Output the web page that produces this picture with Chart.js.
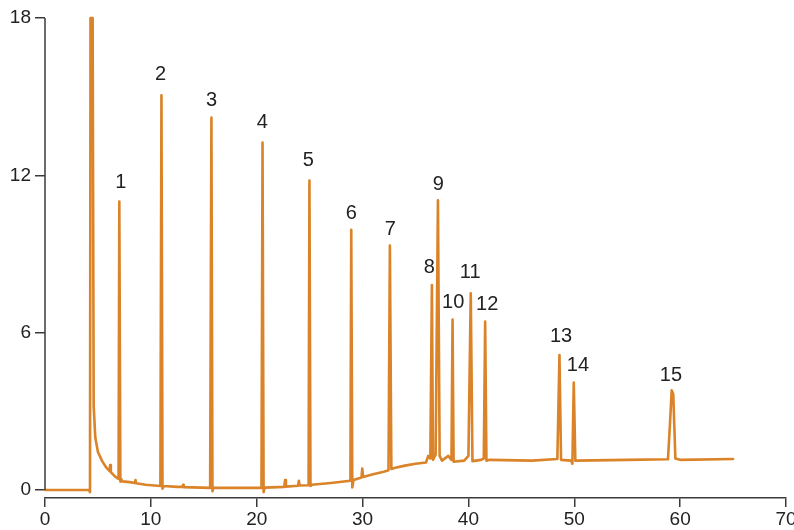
<!DOCTYPE html>
<html>
<head>
<meta charset="utf-8">
<script src="https://cdn.jsdelivr.net/npm/chart.js@4/dist/chart.umd.min.js"></script>
<style>
  html, body { margin: 0; padding: 0; background: #fff; overflow: hidden; }
  #wrap { width: 810px; height: 530px; }
</style>
</head>
<body>
<div id="wrap"><canvas id="chromChart"></canvas></div>
<script>
// Retention time (min) and detector signal
const traceX = [
    0, 4.15, 4.25, 4.3, 4.5, 4.6, 4.75, 5.0, 5.4, 5.8, 6.1, 6.15, 6.22, 6.6, 6.95,
    7.02, 7.12, 7.2, 7.3, 8.0, 8.5, 8.55, 8.6, 9.5, 10.9, 11.0, 11.1, 11.2, 12.5, 13.0,
    13.05, 13.1, 15.6, 15.72, 15.82, 15.9, 18, 20.45, 20.55, 20.65, 20.75, 22.6, 22.68, 22.76,
    23.9, 23.98, 24.06, 24.9, 24.98, 25.08, 25.2, 27, 28.85, 28.93, 29.03, 29.15, 29.9, 29.97,
    30.05, 31.0, 32.0, 32.45, 32.58, 32.72, 33.0, 34.0, 35.0, 36.0, 36.2, 36.4, 36.55, 36.65,
    36.9, 37.12, 37.28, 37.5, 38.1, 38.4, 38.5, 38.6, 39.6, 40.0, 40.22, 40.38, 41.2, 41.45,
    41.58, 41.7, 42.0, 46, 48.4, 48.6, 48.75, 49.7, 49.82, 49.95, 50.1, 55, 58.85, 59.05,
    59.2, 59.35, 59.55, 60, 65
];
const traceY = [
    0, 0, -0.08, 18, 18, 3.2, 2.0, 1.45, 1.1, 0.85, 0.72, 0.95, 0.68, 0.52, 0.42,
    11.0, 0.32, 0.42, 0.33, 0.3, 0.27, 0.38, 0.26, 0.2, 0.15, 15.05, 0.05, 0.15, 0.12, 0.12,
    0.2, 0.11, 0.08, 14.2, -0.05, 0.08, 0.08, 0.08, 13.25, -0.08, 0.09, 0.12, 0.38, 0.13,
    0.16, 0.35, 0.17, 0.18, 11.8, 0.15, 0.2, 0.27, 0.35, 9.92, 0.1, 0.38, 0.48, 0.82,
    0.5, 0.6, 0.7, 0.75, 9.32, 0.8, 0.84, 0.93, 1.0, 1.05, 1.3, 1.2, 7.82, 1.15,
    1.35, 11.05, 1.3, 1.12, 1.3, 1.15, 6.5, 1.08, 1.12, 1.3, 7.5, 1.1, 1.15, 1.2,
    6.42, 1.12, 1.15, 1.12, 1.18, 5.15, 1.15, 1.12, 1.0, 4.1, 1.12, 1.15, 1.17, 2.6,
    3.8, 3.65, 1.2, 1.15, 1.18
];

// Peak numbers and where their labels sit (data units)
const peakNames = ['1', '2', '3', '4', '5', '6', '7', '8', '9', '10', '11', '12', '13', '14', '15'];
const peakLabelX = [7.15, 10.92, 15.73, 20.54, 24.88, 28.94, 32.62, 36.3, 37.15, 38.56, 40.16, 41.77, 48.75, 50.35, 59.13];
const peakLabelY = [11.71, 15.83, 14.87, 14.0, 12.55, 10.56, 9.95, 8.47, 11.67, 7.17, 8.28, 7.09, 5.87, 4.73, 4.35];

const yTicks = [0, 6, 12, 18];
const xTicks = [0, 10, 20, 30, 40, 50, 60, 70];

const lineColor = 'rgb(218, 131, 40)';
const axisColor = '#3a3a3a';
const fontFamily = '"Liberation Sans", Arial, sans-serif';

// Peak numbers above the trace
const peakLabelPlugin = {
    id: 'peakLabels',
    afterDatasetsDraw(chart) {
        const ctx = chart.ctx;
        const xs = chart.scales.x;
        const ys = chart.scales.y;
        ctx.save();
        ctx.fillStyle = '#222';
        ctx.font = '20px ' + fontFamily;
        ctx.textAlign = 'center';
        ctx.textBaseline = 'middle';
        peakNames.forEach((name, i) => {
            ctx.fillText(name, xs.getPixelForValue(peakLabelX[i]), ys.getPixelForValue(peakLabelY[i]));
        });
        ctx.restore();
    }
};

// y axis line only spans 0..18, x axis sits a little below
const yAxisLinePlugin = {
    id: 'yAxisLine',
    afterDraw(chart) {
        const ctx = chart.ctx;
        const ys = chart.scales.y;
        const left = chart.chartArea.left;
        ctx.save();
        ctx.strokeStyle = axisColor;
        ctx.lineWidth = 1.5;
        ctx.beginPath();
        ctx.moveTo(left, ys.getPixelForValue(yTicks[0]));
        ctx.lineTo(left, ys.getPixelForValue(yTicks[yTicks.length - 1]));
        ctx.stroke();
        ctx.restore();
    }
};

const points = traceX.map((x, i) => ({ x: x, y: traceY[i] }));

new Chart(document.getElementById('chromChart'), {
    type: 'scatter',
    data: {
        datasets: [{
            data: points,
            showLine: true,
            borderColor: lineColor,
            borderWidth: 2.6,
            borderJoinStyle: 'round',
            borderCapStyle: 'round',
            pointRadius: 0,
            tension: 0,
            clip: 4
        }]
    },
    options: {
        responsive: true,
        maintainAspectRatio: false,
        animation: false,
        events: [],
        layout: { padding: { top: 18, right: 24, left: 0, bottom: 0 } },
        plugins: {
            legend: { display: false },
            tooltip: { enabled: false }
        },
        scales: {
            x: {
                type: 'linear',
                min: 0,
                max: 70,
                afterBuildTicks: (scale) => { scale.ticks = xTicks.map(v => ({ value: v })); },
                afterFit: (scale) => { scale.height = 32; },
                grid: {
                    drawOnChartArea: false,
                    drawTicks: true,
                    tickLength: 9,
                    color: axisColor,
                    lineWidth: 1.5
                },
                border: { display: true, color: axisColor, width: 1.5 },
                ticks: {
                    color: '#222',
                    padding: 1,
                    maxRotation: 0,
                    font: { family: fontFamily, size: 19 }
                }
            },
            y: {
                min: -0.305,
                max: 18,
                afterBuildTicks: (scale) => { scale.ticks = yTicks.map(v => ({ value: v })); },
                afterFit: (scale) => { scale.width = 45; },
                grid: {
                    drawOnChartArea: false,
                    drawTicks: true,
                    tickLength: 10,
                    color: axisColor,
                    lineWidth: 1.5
                },
                border: { display: false },
                ticks: {
                    color: '#222',
                    padding: 4,
                    font: { family: fontFamily, size: 19 }
                }
            }
        }
    },
    plugins: [peakLabelPlugin, yAxisLinePlugin]
});
</script>
</body>
</html>
